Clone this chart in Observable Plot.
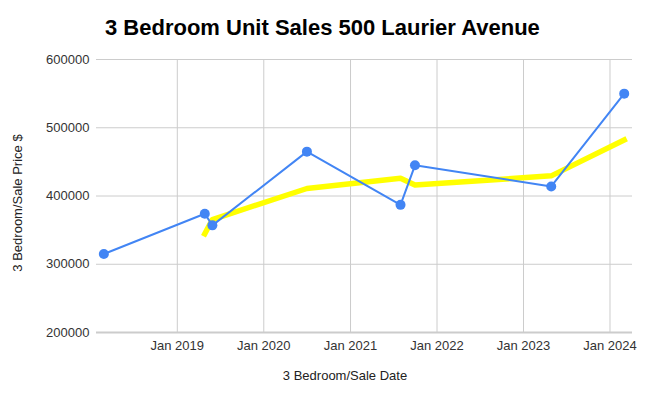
<!DOCTYPE html>
<html><head><meta charset="utf-8">
<script src="https://cdn.jsdelivr.net/npm/d3@7"></script>
<script src="https://cdn.jsdelivr.net/npm/@observablehq/plot@0.6"></script>
<style>
body{margin:0;background:#fff;font-family:"Liberation Sans",Arial,sans-serif;}
#wrap{position:relative;width:649px;height:399px;overflow:hidden;}
#title{position:absolute;left:105px;top:15px;font-size:22px;font-weight:bold;color:#000;white-space:nowrap;line-height:26px;}
#xlabel{position:absolute;left:245px;width:200px;top:368px;text-align:center;font-size:13px;color:#222;line-height:16px;white-space:nowrap;}
#ylabel{position:absolute;left:18px;top:203px;font-size:13px;color:#222;line-height:16px;white-space:nowrap;transform:translate(-50%,-50%) rotate(-90deg);}
#chart{position:absolute;left:0;top:0;}
</style>
</head><body>
<div id="wrap">
<div id="chart"></div>
<div id="title">3 Bedroom Unit Sales 500 Laurier Avenue</div>
<div id="ylabel">3 Bedroom/Sale Price $</div>
<div id="xlabel">3 Bedroom/Sale Date</div>
</div>
<script>
const saleDates = ["2018-02-25","2019-04-27","2019-05-29","2020-07-01","2021-07-31","2021-09-30","2023-04-28","2024-03-01"];
const salePrices = [315000,374000,357000,465000,387000,445000,414000,550000];
const trendDates = ["2019-04-27","2019-05-29","2020-07-01","2021-07-31","2021-09-30","2023-04-28","2024-03-01"];
const trendPrices = [344500,365500,411000,426000,416000,429500,482000];
const xTickDates = ["2019-01-01","2020-01-01","2021-01-01","2022-01-01","2023-01-01","2024-01-01"];
const yTickValues = [200000,300000,400000,500000,600000];

const sales = saleDates.map((d,i)=>({date:new Date(d), price:salePrices[i]}));
const trend = trendDates.map((d,i)=>({date:new Date(d), price:trendPrices[i]}));
const xTicks = xTickDates.map(d=>new Date(d));

const chart = Plot.plot({
  width:649, height:399,
  marginLeft:96, marginRight:17, marginTop:59, marginBottom:67,
  style:{fontFamily:"'Liberation Sans', Arial, sans-serif", fontSize:"13px", color:"#333", background:"transparent"},
  x:{type:"utc", domain:[new Date("2018-01-25"), new Date("2024-04-05")]},
  y:{domain:[200000,600000]},
  marks:[
    Plot.gridX(xTicks, {stroke:"#ccc", strokeOpacity:1, strokeWidth:1}),
    Plot.gridY(yTickValues, {stroke:"#ccc", strokeOpacity:1, strokeWidth:1}),
    Plot.ruleY([yTickValues[0]], {stroke:"#ccc", strokeWidth:2}),
    Plot.axisX(xTicks, {tickSize:0, tickPadding:8, tickFormat:d3.utcFormat("%b %Y"), label:null, fill:"#333"}),
    Plot.axisY(yTickValues, {tickSize:0, tickPadding:7, tickFormat:d=>String(d), label:null, fill:"#333"}),
    Plot.line(trend, {x:"date", y:"price", stroke:"#ffff00", strokeWidth:5.5, strokeLinecap:"square", strokeLinejoin:"round"}),
    Plot.line(sales, {x:"date", y:"price", stroke:"#4285f4", strokeWidth:2}),
    Plot.dot(sales, {x:"date", y:"price", r:5, fill:"#4285f4", stroke:"none"})
  ]
});
document.getElementById("chart").appendChild(chart);
</script>
</body></html>
